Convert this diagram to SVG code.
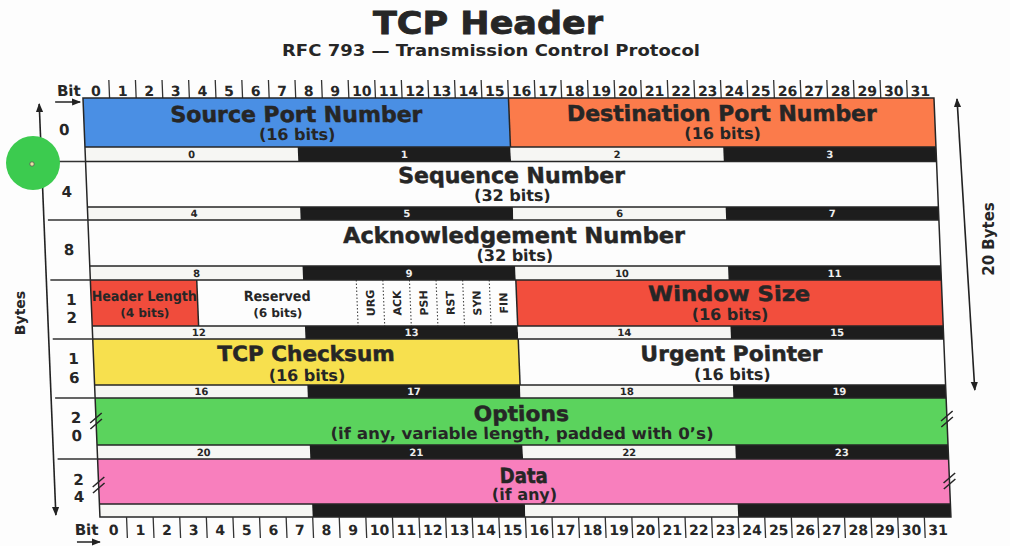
<svg xmlns="http://www.w3.org/2000/svg" width="1010" height="546" viewBox="0 0 1010 546">
<defs>
<style>
text { font-family: "DejaVu Sans", "Liberation Sans", sans-serif; font-weight: bold; fill: #262626; text-anchor: middle; }
.big { font-size: 22px; stroke: #262626; stroke-width: 0.5; }
.mid { font-size: 21px; stroke: #262626; stroke-width: 0.5; }
.sub { font-size: 16px; }
.sm { font-size: 14px; }
.xs { font-size: 12px; }
.flag { font-size: 11px; }
.rul { font-size: 14px; }
.rl { font-size: 15px; }
.sn { font-size: 10px; }
.snl { font-size: 10px; fill: #eeeeee; }
.w { fill: #f6f6f3; }
.k { fill: #1d1d1d; }
.ln { stroke: #262626; stroke-width: 1.5; fill: none; }
.thin { stroke: #333; stroke-width: 1.3; fill: none; }
.dot { stroke: #444; stroke-width: 1.1; stroke-dasharray: 1.5 2; fill: none; }
.arr { stroke: #222; stroke-width: 1.6; fill: none; }
</style>
<marker id="ah" viewBox="0 0 10 10" refX="9" refY="5" markerUnits="userSpaceOnUse" markerWidth="9" markerHeight="9" orient="auto-start-reverse">
<path d="M0,1 L10,5 L0,9 z" fill="#222"/>
</marker>
</defs>
<rect width="1010" height="546" fill="#fdfdfd"/>

<g id="title">
<text x="488" y="34" style="font-size:32px;stroke:#262626;stroke-width:0.8" textLength="230" lengthAdjust="spacingAndGlyphs">TCP Header</text>
<text x="491" y="56" style="font-size:16.5px" textLength="418" lengthAdjust="spacingAndGlyphs">RFC 793 — Transmission Control Protocol</text>
</g>

<g id="table" transform="matrix(1 0 0.0405 1 79 0)">

<g id="ruler-top">
<text x="-2" y="96" class="rl" style="text-anchor:end">Bit</text>
<text y="96" class="rul"><tspan x="13.3">0</tspan><tspan x="39.9">1</tspan><tspan x="66.5">2</tspan><tspan x="93.1">3</tspan><tspan x="119.7">4</tspan><tspan x="146.3">5</tspan><tspan x="172.9">6</tspan><tspan x="199.4">7</tspan><tspan x="226.0">8</tspan><tspan x="252.6">9</tspan><tspan x="279.2">10</tspan><tspan x="305.8">11</tspan><tspan x="332.4">12</tspan><tspan x="359.0">13</tspan><tspan x="385.6">14</tspan><tspan x="412.2">15</tspan><tspan x="438.8">16</tspan><tspan x="465.4">17</tspan><tspan x="492.0">18</tspan><tspan x="518.6">19</tspan><tspan x="545.2">20</tspan><tspan x="571.8">21</tspan><tspan x="598.4">22</tspan><tspan x="625.0">23</tspan><tspan x="651.6">24</tspan><tspan x="678.2">25</tspan><tspan x="704.8">26</tspan><tspan x="731.3">27</tspan><tspan x="757.9">28</tspan><tspan x="784.5">29</tspan><tspan x="811.1">30</tspan><tspan x="837.7">31</tspan></text>
<path class="thin" d="M26.6 80V98M53.2 80V98M79.8 80V98M106.4 80V98M133 80V98M159.6 80V98M186.2 80V98M212.75 80V98M239.3 80V98M265.9 80V98M292.5 80V98M319.1 80V98M345.7 80V98M372.3 80V98M398.9 80V98M425.5 80V98M452.1 80V98M478.7 80V98M505.3 80V98M531.9 80V98M558.5 80V98M585.1 80V98M611.7 80V98M638.25 80V98M664.8 80V98M691.4 80V98M718 80V98M744.6 80V98M771.2 80V98M797.8 80V98M824.4 80V98"/>
</g>

<g id="row-0">
<rect x="0" y="98" width="425.5" height="49" fill="#4a8fe4"/>
<rect x="425.5" y="98" width="425.5" height="49" fill="#fb7b4b"/>
<rect x="0" y="147" width="212.75" height="14.5" class="w"/><rect x="212.75" y="147" width="212.75" height="14.5" class="k"/><rect x="425.5" y="147" width="212.75" height="14.5" class="w"/><rect x="638.25" y="147" width="212.75" height="14.5" class="k"/>
<text x="106.4" y="158" class="sn">0</text><text x="319.1" y="158" class="snl">1</text><text x="531.9" y="158" class="sn">2</text><text x="744.6" y="158" class="snl">3</text>
<line x1="425.5" y1="98" x2="425.5" y2="147" class="ln"/>
<text x="212.75" y="122" class="big" textLength="252" lengthAdjust="spacingAndGlyphs">Source Port Number</text>
<text x="212.75" y="140" class="sub">(16 bits)</text>
<text x="638.25" y="121" class="big" textLength="310" lengthAdjust="spacingAndGlyphs">Destination Port Number</text>
<text x="638.25" y="139" class="sub">(16 bits)</text>
</g>

<g id="row-4">
<rect x="0" y="161.5" width="851" height="45.5" fill="#fdfdfd"/>
<rect x="0" y="207" width="212.75" height="13" class="w"/><rect x="212.75" y="207" width="212.75" height="13" class="k"/><rect x="425.5" y="207" width="212.75" height="13" class="w"/><rect x="638.25" y="207" width="212.75" height="13" class="k"/>
<text x="106.4" y="217.5" class="sn">4</text><text x="319.1" y="217.5" class="snl">5</text><text x="531.9" y="217.5" class="sn">6</text><text x="744.6" y="217.5" class="snl">7</text>
<text x="425.5" y="183" class="big" textLength="227" lengthAdjust="spacingAndGlyphs">Sequence Number</text>
<text x="425.5" y="201" class="sub">(32 bits)</text>
</g>

<g id="row-8">
<rect x="0" y="220" width="851" height="46" fill="#fdfdfd"/>
<rect x="0" y="266" width="212.75" height="14" class="w"/><rect x="212.75" y="266" width="212.75" height="14" class="k"/><rect x="425.5" y="266" width="212.75" height="14" class="w"/><rect x="638.25" y="266" width="212.75" height="14" class="k"/>
<text x="106.4" y="277" class="sn">8</text><text x="319.1" y="277" class="snl">9</text><text x="531.9" y="277" class="sn">10</text><text x="744.6" y="277" class="snl">11</text>
<text x="425.5" y="243" class="big" textLength="342" lengthAdjust="spacingAndGlyphs">Acknowledgement Number</text>
<text x="425.5" y="261" class="sub">(32 bits)</text>
</g>

<g id="row-12">
<rect x="0" y="280" width="106.4" height="46" fill="#f04c3c"/>
<rect x="106.4" y="280" width="319.1" height="46" fill="#fdfdfd"/>
<rect x="425.5" y="280" width="425.5" height="46" fill="#f24e3d"/>
<rect x="0" y="326" width="212.75" height="13" class="w"/><rect x="212.75" y="326" width="212.75" height="13" class="k"/><rect x="425.5" y="326" width="212.75" height="13" class="w"/><rect x="638.25" y="326" width="212.75" height="13" class="k"/>
<text x="106.4" y="336.5" class="sn">12</text><text x="319.1" y="336.5" class="snl">13</text><text x="531.9" y="336.5" class="sn">14</text><text x="744.6" y="336.5" class="snl">15</text>
<line x1="106.4" y1="280" x2="106.4" y2="326" class="ln"/>
<line x1="425.5" y1="280" x2="425.5" y2="326" class="ln"/>
<path class="dot" d="M265.9 280V326M292.5 280V326M319.1 280V326M345.7 280V326M372.3 280V326M398.9 280V326"/>
<text x="53.2" y="301" class="sm" textLength="105" lengthAdjust="spacingAndGlyphs">Header Length</text>
<text x="53.2" y="317" class="xs">(4 bits)</text>
<text x="186.2" y="301" class="sm" textLength="67" lengthAdjust="spacingAndGlyphs">Reserved</text>
<text x="186.2" y="317" class="xs">(6 bits)</text>
<text class="flag" transform="translate(283.2 303) rotate(-90)">URG</text>
<text class="flag" transform="translate(309.8 303) rotate(-90)">ACK</text>
<text class="flag" transform="translate(336.4 303) rotate(-90)">PSH</text>
<text class="flag" transform="translate(363 303) rotate(-90)">RST</text>
<text class="flag" transform="translate(389.6 303) rotate(-90)">SYN</text>
<text class="flag" transform="translate(416.2 303) rotate(-90)">FIN</text>
<text x="638.25" y="301" class="mid" textLength="162" lengthAdjust="spacingAndGlyphs">Window Size</text>
<text x="638.25" y="320" class="sub">(16 bits)</text>
</g>

<g id="row-16">
<rect x="0" y="339" width="425.5" height="46" fill="#f7e04e"/>
<rect x="425.5" y="339" width="425.5" height="46" fill="#fdfdfd"/>
<rect x="0" y="385" width="212.75" height="13" class="w"/><rect x="212.75" y="385" width="212.75" height="13" class="k"/><rect x="425.5" y="385" width="212.75" height="13" class="w"/><rect x="638.25" y="385" width="212.75" height="13" class="k"/>
<text x="106.4" y="395.5" class="sn">16</text><text x="319.1" y="395.5" class="snl">17</text><text x="531.9" y="395.5" class="sn">18</text><text x="744.6" y="395.5" class="snl">19</text>
<line x1="425.5" y1="339" x2="425.5" y2="385" class="ln"/>
<text x="212.75" y="361" class="mid" textLength="177" lengthAdjust="spacingAndGlyphs">TCP Checksum</text>
<text x="212.75" y="381" class="sub">(16 bits)</text>
<text x="638.25" y="361" class="mid" textLength="182" lengthAdjust="spacingAndGlyphs">Urgent Pointer</text>
<text x="638.25" y="380" class="sub">(16 bits)</text>
</g>

<g id="row-20">
<rect x="0" y="398" width="851" height="47" fill="#5bd35d"/>
<rect x="0" y="445" width="212.75" height="14" class="w"/><rect x="212.75" y="445" width="212.75" height="14" class="k"/><rect x="425.5" y="445" width="212.75" height="14" class="w"/><rect x="638.25" y="445" width="212.75" height="14" class="k"/>
<text x="106.4" y="456" class="sn">20</text><text x="319.1" y="456" class="snl">21</text><text x="531.9" y="456" class="sn">22</text><text x="744.6" y="456" class="snl">23</text>
<text x="425.5" y="421" class="mid" textLength="95" lengthAdjust="spacingAndGlyphs">Options</text>
<text x="425.5" y="439" class="sub" textLength="383" lengthAdjust="spacingAndGlyphs">(if any, variable length, padded with 0’s)</text>
</g>

<g id="row-24">
<rect x="0" y="459" width="851" height="45" fill="#f87fbd"/>
<rect x="0" y="504" width="212.75" height="13" class="w"/><rect x="212.75" y="504" width="212.75" height="13" class="k"/><rect x="425.5" y="504" width="212.75" height="13" class="w"/><rect x="638.25" y="504" width="212.75" height="13" class="k"/>
<text x="425.5" y="483" class="mid" textLength="48" lengthAdjust="spacingAndGlyphs">Data</text>
<text x="425.5" y="500" class="sub">(if any)</text>
</g>

<g id="frame">
<rect x="0" y="98" width="851" height="419" class="ln"/>
<path class="ln" d="M0 147H851M0 161.5H851M0 207H851M0 220H851M0 266H851M0 280H851M0 326H851M0 339H851M0 385H851M0 398H851M0 445H851M0 459H851M0 504H851"/>
<path class="ln" d="M-6 423L6 413M-6 429L6 419M-6 487L6 477M-6 493L6 483M845 421L857 411M845 427L857 417M845 483L857 473M845 489L857 479"/>
</g>

<g id="row-labels">
<text x="-20" y="135" class="rl">0</text>
<text x="-20" y="197" class="rl">4</text>
<text x="-20" y="255" class="rl">8</text>
<text x="-20" y="305" class="rl">1</text><text x="-20" y="323" class="rl">2</text>
<text x="-20" y="364" class="rl">1</text><text x="-20" y="383" class="rl">6</text>
<text x="-20" y="423" class="rl">2</text><text x="-20" y="441" class="rl">0</text>
<text x="-20" y="485" class="rl">2</text><text x="-20" y="502" class="rl">4</text>
</g>

<g id="ruler-bottom">
<text x="-2" y="535" class="rl" style="text-anchor:end">Bit</text>
<text y="535" class="rul"><tspan x="13.3">0</tspan><tspan x="39.9">1</tspan><tspan x="66.5">2</tspan><tspan x="93.1">3</tspan><tspan x="119.7">4</tspan><tspan x="146.3">5</tspan><tspan x="172.9">6</tspan><tspan x="199.4">7</tspan><tspan x="226.0">8</tspan><tspan x="252.6">9</tspan><tspan x="279.2">10</tspan><tspan x="305.8">11</tspan><tspan x="332.4">12</tspan><tspan x="359.0">13</tspan><tspan x="385.6">14</tspan><tspan x="412.2">15</tspan><tspan x="438.8">16</tspan><tspan x="465.4">17</tspan><tspan x="492.0">18</tspan><tspan x="518.6">19</tspan><tspan x="545.2">20</tspan><tspan x="571.8">21</tspan><tspan x="598.4">22</tspan><tspan x="625.0">23</tspan><tspan x="651.6">24</tspan><tspan x="678.2">25</tspan><tspan x="704.8">26</tspan><tspan x="731.3">27</tspan><tspan x="757.9">28</tspan><tspan x="784.5">29</tspan><tspan x="811.1">30</tspan><tspan x="837.7">31</tspan></text>
<path class="thin" d="M26.6 517V538M53.2 517V538M79.8 517V538M106.4 517V538M133 517V538M159.6 517V538M186.2 517V538M212.75 517V538M239.3 517V538M265.9 517V538M292.5 517V538M319.1 517V538M345.7 517V538M372.3 517V538M398.9 517V538M425.5 517V538M452.1 517V538M478.7 517V538M505.3 517V538M531.9 517V538M558.5 517V538M585.1 517V538M611.7 517V538M638.25 517V538M664.8 517V538M691.4 517V538M718 517V538M744.6 517V538M771.2 517V538M797.8 517V538M824.4 517V538"/>
</g>

<g id="connectors">
<line x1="-44" y1="104" x2="-44" y2="515" class="arr" marker-start="url(#ah)" marker-end="url(#ah)"/>
<path class="thin" d="M-40 161.5H0M-40 220H0M-40 280H0M-40 339H0M-40 398H0M-40 459H0"/>
<line x1="874" y1="99" x2="880" y2="390" class="arr" marker-start="url(#ah)" marker-end="url(#ah)"/>
<line x1="-28" y1="102" x2="-3" y2="102" class="arr" marker-end="url(#ah)"/>
<line x1="-24" y1="542" x2="-1" y2="542" class="arr" marker-end="url(#ah)"/>
</g>
</g>

<g id="axis-labels">
<text class="sm" transform="translate(25 313) rotate(-90)">Bytes</text>
<text class="sub" style="font-size:15px" transform="translate(994 239) rotate(-90)">20 Bytes</text>
</g>

<g id="cursor-dot">
<circle cx="33" cy="163" r="27" fill="#3ccb4f"/>
<circle cx="32" cy="164" r="2.2" fill="#e8e2a0" stroke="#555" stroke-width="0.8"/>
</g>
</svg>
